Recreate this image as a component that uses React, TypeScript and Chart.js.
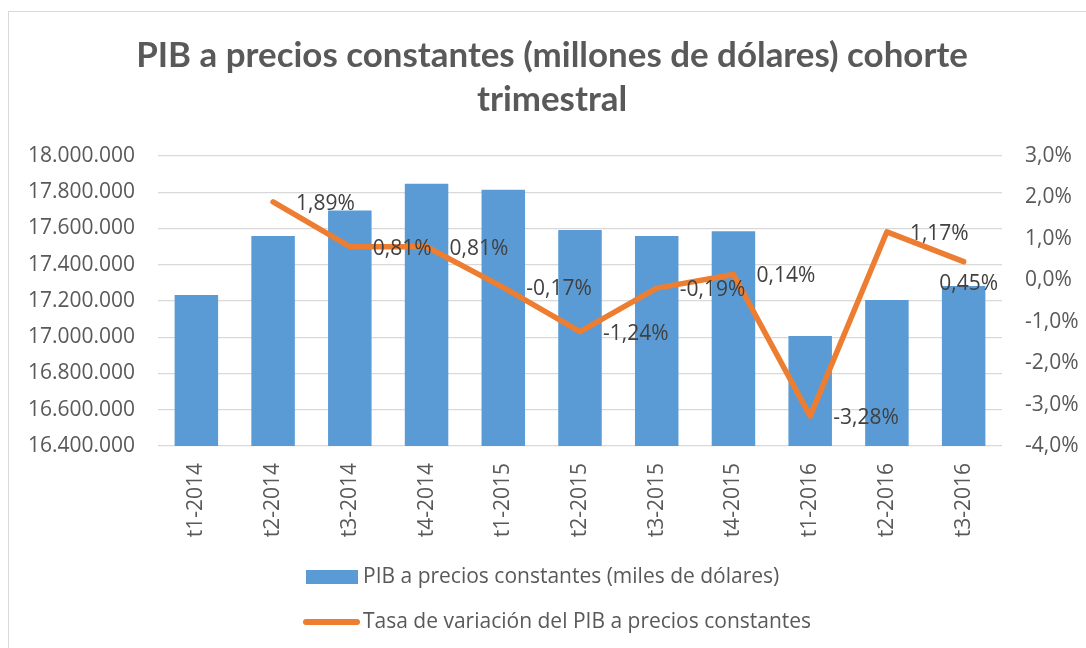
import React, { useEffect, useRef } from "react";
import { Chart, registerables } from "chart.js";

Chart.register(...registerables);

const categories = [
  "t1-2014", "t2-2014", "t3-2014", "t4-2014",
  "t1-2015", "t2-2015", "t3-2015", "t4-2015",
  "t1-2016", "t2-2016", "t3-2016",
];

const pibValues = [
  17233000, 17559000, 17700000, 17847000,
  17814000, 17592000, 17559000, 17585000,
  17007000, 17206000, 17283000,
];

const tasaValues: (number | null)[] = [
  null, 1.89, 0.81, 0.81,
  -0.17, -1.24, -0.19, 0.14,
  -3.28, 1.17, 0.45,
];

const titleLines = ["PIB a precios constantes (millones de dólares) cohorte", "trimestral"];
const pibLabel = "PIB a precios constantes (miles de dólares)";
const tasaLabel = "Tasa de variación del PIB a precios constantes";

const leftMin = 16400000;
const leftMax = 18000000;
const leftStep = 200000;
const rightMin = -4;
const rightMax = 3;
const rightStep = 1;

const FONT = "'Open Sans', 'Liberation Sans', sans-serif";
const TITLE_FONT = "Lato, 'Open Sans', sans-serif";
const AXIS_COLOR = "#595959";
const LABEL_COLOR = "#404040";
const BAR_COLOR = "#5B9BD5";
const LINE_COLOR = "#ED7D31";
const GRID_COLOR = "#D9D9D9";

const W = 1090;
const H = 640;

function fmtThousands(v: number): string {
  return Math.round(v).toString().replace(/\B(?=(\d{3})+(?!\d))/g, ".");
}
function fmtPct(v: number, d: number): string {
  return v.toFixed(d).replace(".", ",") + "%";
}

const overlayPlugin = {
  id: "overlay",
  afterDatasetsDraw(chart: any) {
    const ctx = chart.ctx;
    const meta = chart.getDatasetMeta(1);
    const area = chart.chartArea;
    ctx.save();
    ctx.font = `21px ${FONT}`;
    ctx.fillStyle = LABEL_COLOR;
    ctx.textAlign = "left";
    ctx.textBaseline = "middle";
    meta.data.forEach((pt: any, i: number) => {
      const v = tasaValues[i];
      if (v === null || v === undefined) return;
      const txt = fmtPct(v, 2);
      const tw = ctx.measureText(txt).width;
      let x = pt.x + 23;
      let y = pt.y + 2;
      if (x + tw > area.right) {
        x = area.right - tw - 4;
        y = pt.y + 22;
      }
      ctx.fillText(txt, x, y);
    });
    ctx.restore();
  },
  afterDraw(chart: any) {
    const ctx = chart.ctx;
    ctx.save();
    // title
    ctx.fillStyle = AXIS_COLOR;
    ctx.textAlign = "center";
    ctx.textBaseline = "alphabetic";
    ctx.font = `bold 100px ${TITLE_FONT}`;
    const w100 = ctx.measureText(titleLines[0]).width;
    const size = Math.min(36, (100 * 832) / w100);
    ctx.font = `bold ${size}px ${TITLE_FONT}`;
    ctx.fillText(titleLines[0], 543, 55);
    ctx.fillText(titleLines[1], 543, 99);
    // legend
    ctx.textAlign = "left";
    ctx.textBaseline = "middle";
    ctx.font = `21px ${FONT}`;
    ctx.fillStyle = BAR_COLOR;
    ctx.fillRect(297, 558, 52, 14);
    ctx.fillStyle = AXIS_COLOR;
    ctx.fillText(pibLabel, 354, 565);
    ctx.strokeStyle = LINE_COLOR;
    ctx.lineWidth = 6;
    ctx.lineCap = "round";
    ctx.beginPath();
    ctx.moveTo(297, 610);
    ctx.lineTo(348, 610);
    ctx.stroke();
    ctx.fillText(tasaLabel, 354, 610);
    ctx.restore();
  },
};

export default function App() {
  const canvasRef = useRef<HTMLCanvasElement>(null);

  useEffect(() => {
    if (!canvasRef.current) return;
    const chart = new Chart(canvasRef.current, {
      type: "bar",
      data: {
        labels: categories,
        datasets: [
          {
            type: "bar",
            label: pibLabel,
            data: pibValues,
            backgroundColor: BAR_COLOR,
            barPercentage: 0.567,
            categoryPercentage: 1,
            yAxisID: "y",
            order: 1,
          },
          {
            type: "line",
            label: tasaLabel,
            data: tasaValues,
            borderColor: LINE_COLOR,
            backgroundColor: LINE_COLOR,
            borderWidth: 5.5,
            pointRadius: 0,
            borderCapStyle: "round",
            borderJoinStyle: "round",
            tension: 0,
            yAxisID: "y1",
            order: 0,
          },
        ],
      } as any,
      options: {
        responsive: false,
        animation: false,
        layout: { padding: { top: 144, bottom: 100, left: 0, right: 0 } },
        plugins: {
          legend: { display: false },
          title: { display: false },
          tooltip: { enabled: false },
        },
        scales: {
          x: {
            grid: { display: false, drawTicks: false },
            border: { display: false },
            ticks: {
              color: AXIS_COLOR,
              font: { family: FONT, size: 21 },
              minRotation: 90,
              maxRotation: 90,
              autoSkip: false,
              padding: 17,
            },
            afterFit: (s: any) => { s.height = 106; },
          },
          y: {
            position: "left",
            min: leftMin,
            max: leftMax,
            grid: { color: GRID_COLOR, lineWidth: 1.3, drawTicks: false },
            border: { display: false },
            ticks: {
              stepSize: leftStep,
              color: AXIS_COLOR,
              font: { family: FONT, size: 21 },
              padding: 23,
              callback: (v: any) => fmtThousands(Number(v)),
            },
            afterFit: (s: any) => { s.width = 149; },
          },
          y1: {
            position: "right",
            min: rightMin,
            max: rightMax,
            grid: { display: false, drawTicks: false },
            border: { display: false },
            ticks: {
              stepSize: rightStep,
              color: AXIS_COLOR,
              font: { family: FONT, size: 21 },
              padding: 23,
              callback: (v: any) => fmtPct(Number(v), 1),
            },
            afterFit: (s: any) => { s.width = W - 993; },
          },
        },
      } as any,
      plugins: [overlayPlugin],
    });
    return () => chart.destroy();
  }, []);

  return (
    <div
      style={{
        position: "fixed",
        left: 8,
        top: 11,
        border: "1px solid #D9D9D9",
        background: "#fff",
        width: W,
        height: H,
      }}
    >
      <canvas ref={canvasRef} width={W} height={H} style={{ display: "block", width: W, height: H }} />
    </div>
  );
}
